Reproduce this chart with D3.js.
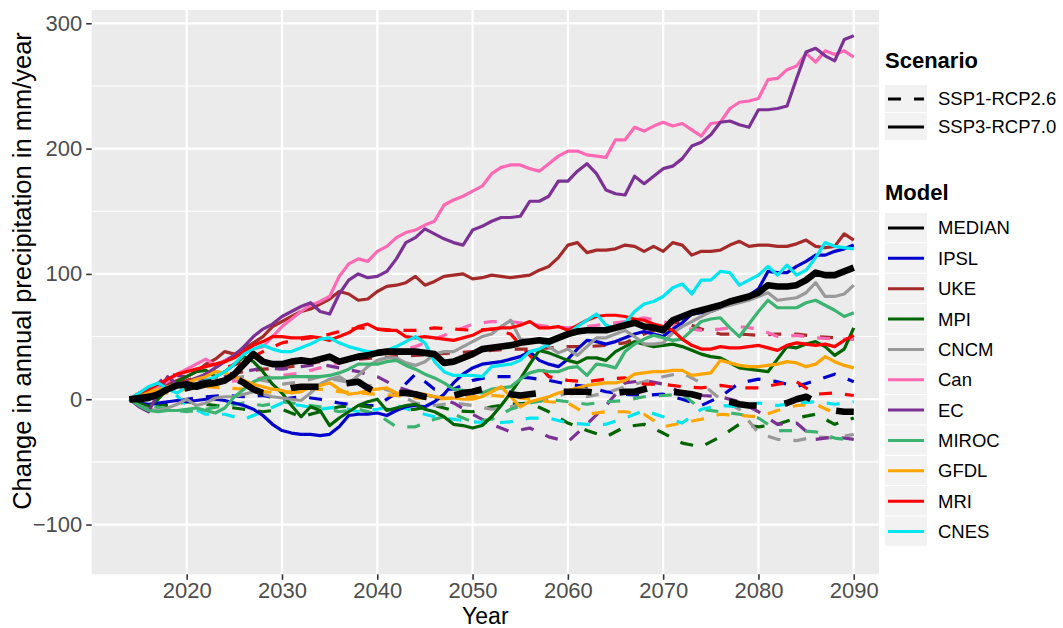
<!DOCTYPE html>
<html>
<head>
<meta charset="utf-8">
<script src="https://cdn.jsdelivr.net/npm/d3@7"></script>
<style>
  body { margin: 0; background: #fff; }
  text { font-family: "Liberation Sans", Arial, Helvetica, sans-serif; }
</style>
</head>
<body>
<div id="chart"></div>
<script>
// ---- data -------------------------------------------------------------
// years: SSP3 runs and the medians are annual, SSP1 model runs read every 2nd year
var yearsAnnual = d3.range(2014, 2091);
var yearsBiennial = d3.range(2014, 2091, 2);

var models = ["MEDIAN", "IPSL", "UKE", "MPI", "CNCM", "Can", "EC", "MIROC", "GFDL", "MRI", "CNES"];
var modelColors = ["#000000", "#0000cd", "#a52a2a", "#006400", "#999999", "#ff69b4",
                   "#7b3294", "#3cb371", "#ffa500", "#ff0000", "#00e5ee"];
var scenarios = ["SSP1-RCP2.6", "SSP3-RCP7.0"];

var yTicks = [-100, 0, 100, 200, 300];
var yMinorTicks = [-50, 50, 150, 250];
var xTicks = [2020, 2030, 2040, 2050, 2060, 2070, 2080, 2090];

// SSP3-RCP7.0 (solid), annual 2014-2090
var medianSsp3 = [0,0,1,4,8,11,12,10,12,13, 15,20,28,36,30,28,28,30,31,30,
  32,34,30,32,34,35,37,38,38,38, 38,37,36,29,30,33,36,40,41,42,
  43,45,46,47,46,49,52,54,55,55, 55,57,59,61,58,57,55,63,66,69,
  71,73,75,78,80,82,85,91,90,90, 91,95,101,99,99,102,105];
var ipslSsp3 = [0,-3,-4,-3,-2,-1,-2,-1,0,0, -1,-3,-5,-8,-13,-20,-25,-27,-28,-28,
  -29,-28,-22,-13,-12,-12,-11,-13,-9,-6, -5,-6,-2,4,13,20,25,28,29,30,
  32,34,38,31,28,26,32,40,47,46, 44,46,49,52,54,52,50,56,61,68,
  69,70,73,77,80,83,88,102,101,101, 106,110,115,115,118,120,123];
var ukeSsp3 = [0,2,5,8,12,15,18,22,28,32, 38,36,40,45,50,58,62,66,70,72,
  76,80,86,84,79,80,86,90,91,93, 98,91,94,98,99,100,96,97,99,98,
  97,98,99,103,106,113,123,125,117,119, 119,120,123,122,118,122,118,125,123,115,
  118,118,119,123,126,122,123,123,122,122, 124,127,122,121,122,132,127];
var mpiSsp3 = [0,-3,-6,0,8,14,18,22,23,18, 22,28,34,30,22,12,5,-5,-14,-6,
  -9,-21,-15,-10,-5,-2,0,-9,-7,-5, -4,-8,-10,-14,-20,-21,-23,-21,-14,-5,
  5,16,28,39,37,34,31,29,33,33, 31,38,42,46,44,42,43,44,42,39,
  36,34,33,29,25,24,23,22,32,42, 41,44,46,42,35,40,57];
var cncmSsp3 = [0,-5,-8,-9,-7,-4,0,-5,-3,1, 2,2,4,6,4,2,1,0,-1,5,
  12,16,18,13,19,26,31,33,33,29, 27,30,36,38,38,42,46,50,52,58,
  63,48,47,46,42,37,40,35,42,49, 49,52,55,50,44,44,45,53,58,62,
  66,70,73,75,77,79,82,85,79,80, 81,85,93,82,82,84,91];
var canSsp3 = [0,3,6,10,14,20,24,28,32,27, 31,35,38,40,42,50,58,64,70,75,
  78,82,98,108,112,110,118,122,129,133, 135,139,142,155,159,162,166,170,180,185,
  187,187,184,182,188,194,198,198,195,194, 193,207,207,217,214,218,221,218,220,215,
  210,220,221,232,237,238,240,255,256,263, 266,276,269,278,275,278,273];
var ecSsp3 = [0,-6,-10,5,18,12,14,17,20,25, 30,35,42,50,56,60,66,70,74,77,
  70,68,84,95,100,97,98,102,112,125, 129,136,132,128,125,123,135,138,142,145,
  145,146,158,158,162,174,174,182,188,180, 167,164,163,178,172,178,184,186,192,202,
  205,211,221,222,219,217,231,231,232,234, 256,277,280,274,270,287,290];
var mirocSsp3 = [0,-5,-9,-10,-9,-9,-8,-7,-9,-11, -7,2,8,14,17,17,17,18,18,18,
  18,19,21,24,28,28,28,30,31,27, 24,20,17,13,8,7,6,5,8,9,
  10,16,21,23,22,22,25,26,19,28, 27,25,38,44,48,51,49,47,48,55,
  62,64,65,57,50,60,70,79,73,73, 73,77,79,75,71,66,69];
var gfdlSsp3 = [0,3,6,8,10,11,13,16,18,22, 21,18,15,12,10,8,7,5,6,10,
  11,13,8,4,5,7,8,9,5,4, 5,4,2,1,1,0,0,2,6,10,
  2,-6,-2,0,2,5,7,9,11,12, 13,13,15,20,21,22,22,23,23,19,
  20,21,31,29,27,26,26,27,28,30, 29,26,28,34,30,27,25];
var mriSsp3 = [0,5,8,12,16,20,22,24,26,28, 30,33,38,43,46,50,50,49,49,50,
  49,47,50,53,58,60,56,55,55,50, 49,50,49,48,47,49,51,55,56,57,
  57,59,62,57,57,58,55,59,63,66, 67,67,66,64,63,60,58,55,48,43,
  40,40,42,41,41,42,43,41,39,43, 45,44,43,44,42,47,51];
var cnesSsp3 = [0,5,10,13,8,5,10,12,15,18, 22,28,36,40,43,40,38,38,41,44,
  48,49,45,42,40,38,38,39,42,46, 50,45,30,22,19,19,19,18,26,27,
  28,31,38,40,44,48,52,58,63,68, 59,57,61,70,76,78,82,89,92,84,
  95,95,102,101,91,95,99,106,99,107, 99,103,113,125,122,121,120];

// SSP1-RCP2.6 (dashed)
var medianSsp1 = [0,1,2,3,5,7,9,11,13,14, 15,17,13,8,5,5,7,9,10,10,
  10,11,12,13,14,9,5,5,5,5, 4,2,1,2,3,5,6,8,10,7,
  4,3,4,5,6,6,6,6,6,5, 4,5,6,6,8,10,8,6,5,4,
  2,0,-1,-2,-4,-5,-5,-5,-5,-3, 0,2,-2,-6,-9,-10,-10];
var ipslSsp1 = [0,-5,-3,0,2,3,2,3,0,2, 0,-3,-5,-5,5,20,8,8,15,18,
  18,17,15,12,10,6,4,3,4,0, -5,2,13,16,14,10,15,20,14];
var ukeSsp1 = [0,4,8,10,14,20,22,24,25,27, 30,31,32,33,34,35,36,37,38,39,
  40,40,41,42,42,43,45,52,58,62, 56,52,52,51,52,52,50,49,48];
var mpiSsp1 = [0,-3,-5,-2,-4,-6,-8,-10,-8,-14, -10,-6,-5,-7,-9,-8,-5,-9,-10,-6,
  -4,-3,-10,-19,-25,-30,-22,-20,-27,-35, -38,-30,-20,-22,-20,-15,-12,-20,-15];
var cncmSsp1 = [0,3,8,12,15,16,18,15,12,14, 18,15,12,10,5,-3,-5,-3,-5,-8,
  -6,-3,0,5,2,5,10,14,18,21, 13,0,-8,-27,-32,-33,-30,-31,-28];
var canSsp1 = [0,3,7,10,12,14,15,17,19,21, 25,29,33,35,38,42,48,54,60,62,
  62,60,58,57,58,60,62,65,62,57, 55,56,58,56,50,51,49,48,48];
var ecSsp1 = [0,5,20,18,15,18,22,25,24,26, 28,25,22,18,10,5,2,-3,-12,-20,
  -26,-23,-30,-34,-20,-5,13,15,12,5, 3,2,-2,-10,-20,-19,-32,-30,-32];
var mirocSsp1 = [0,-5,-8,-10,-8,-5,-3,-5,-2,-4, -6,-10,-8,-12,-22,-22,-16,-12,-18,-16,
  -8,-3,0,-2,-4,-2,-1,2,3,4, -8,-10,-12,-15,-25,-25,-26,-31,-33];
var gfdlSsp1 = [0,3,5,8,10,9,8,6,5,7, 8,6,5,4,3,1,0,1,2,3,
  2,0,-2,-3,-12,-10,-10,-12,-22,-19, -16,-12,-13,-14,-9,-5,-4,-11,-9];
var mriSsp1 = [0,5,10,15,20,25,30,38,45,48, 50,54,57,56,55,55,57,56,55,56,
  52,35,18,15,14,16,17,12,12,10, 9,11,9,9,12,14,4,5,3];
var cnesSsp1 = [0,5,10,-5,-12,-12,-16,-10,-3,-5, -8,-6,-10,-8,-5,-10,-14,-16,-18,-19,
  -18,-15,-15,-19,-20,-20,-15,-9,-14,-19, -8,-5,-6,-3,-5,-3,-2,-4,-2];

// ---- series table -----------------------------------------------------
var ssp1Values = [medianSsp1, ipslSsp1, ukeSsp1, mpiSsp1, cncmSsp1, canSsp1, ecSsp1, mirocSsp1, gfdlSsp1, mriSsp1, cnesSsp1];
var ssp3Values = [medianSsp3, ipslSsp3, ukeSsp3, mpiSsp3, cncmSsp3, canSsp3, ecSsp3, mirocSsp3, gfdlSsp3, mriSsp3, cnesSsp3];

var series = [];
// draw order: model runs (dashed, then solid), medians on top
models.forEach(function(m, i) {
  if (m == "MEDIAN") return;
  series.push({model: m, scen: 0, years: yearsBiennial, values: ssp1Values[i]});
});
models.forEach(function(m, i) {
  if (m == "MEDIAN") return;
  series.push({model: m, scen: 1, years: yearsAnnual, values: ssp3Values[i]});
});
series.push({model: "MEDIAN", scen: 0, years: yearsAnnual, values: medianSsp1});
series.push({model: "MEDIAN", scen: 1, years: yearsAnnual, values: medianSsp3});

// ---- layout -----------------------------------------------------------
var width = 1063, height = 628;
var panel = {left: 91.7, right: 879, top: 10, bottom: 574.3};

var svg = d3.select("#chart").append("svg")
  .attr("width", width)
  .attr("height", height);

var x = d3.scaleLinear().domain([2010.03, 2092.65]).range([panel.left, panel.right]);
var y = d3.scaleLinear().domain([-139.7, 310.6]).range([panel.bottom, panel.top]);

var color = d3.scaleOrdinal().domain(models).range(modelColors);

// panel background + grid
svg.append("rect")
  .attr("x", panel.left).attr("y", panel.top)
  .attr("width", panel.right - panel.left).attr("height", panel.bottom - panel.top)
  .attr("fill", "#ebebeb");

svg.selectAll("line.yminor").data(yMinorTicks).enter().append("line")
  .attr("x1", panel.left).attr("x2", panel.right)
  .attr("y1", function(d) { return y(d); }).attr("y2", function(d) { return y(d); })
  .attr("stroke", "#fff").attr("stroke-width", 1.1);

svg.selectAll("line.ymajor").data(yTicks).enter().append("line")
  .attr("x1", panel.left).attr("x2", panel.right)
  .attr("y1", function(d) { return y(d); }).attr("y2", function(d) { return y(d); })
  .attr("stroke", "#fff").attr("stroke-width", 2.2);

svg.selectAll("line.xmajor").data(xTicks).enter().append("line")
  .attr("y1", panel.top).attr("y2", panel.bottom)
  .attr("x1", function(d) { return x(d); }).attr("x2", function(d) { return x(d); })
  .attr("stroke", "#fff").attr("stroke-width", 2.2);

// lines
var line = d3.line()
  .x(function(d) { return x(d[0]); })
  .y(function(d) { return y(d[1]); });

svg.append("g").selectAll("path")
  .data(series)
  .enter().append("path")
  .attr("d", function(s) { return line(d3.zip(s.years, s.values)); })
  .attr("fill", "none")
  .attr("stroke", function(s) { return color(s.model); })
  .attr("stroke-width", function(s) { return s.model == "MEDIAN" ? 6.6 : 3.2; })
  .attr("stroke-linejoin", "round")
  .attr("stroke-linecap", "butt")
  .attr("stroke-dasharray", function(s) {
    if (s.scen == 1) return null;
    return s.model == "MEDIAN" ? "28,28" : "13,13";
  });

// axes
var yAxis = svg.append("g")
  .attr("transform", "translate(" + panel.left + ",0)")
  .call(d3.axisLeft(y).tickValues(yTicks).tickSize(5.5).tickPadding(4));
var xAxis = svg.append("g")
  .attr("transform", "translate(0," + panel.bottom + ")")
  .call(d3.axisBottom(x).tickValues(xTicks).tickFormat(d3.format("d")).tickSize(5.5).tickPadding(3));

[yAxis, xAxis].forEach(function(a) {
  a.select(".domain").remove();
  a.selectAll(".tick line").attr("stroke", "#333").attr("stroke-width", 1.6);
  a.selectAll(".tick text").attr("fill", "#4d4d4d").style("font-size", "22px")
    .style("font-family", "'Liberation Sans', Arial, sans-serif");
});

svg.append("text")
  .attr("x", (panel.left + panel.right) / 2).attr("y", 624)
  .attr("text-anchor", "middle")
  .style("font-size", "23px").attr("fill", "#000")
  .text("Year");

svg.append("text")
  .attr("transform", "translate(31,271) rotate(-90)")
  .attr("text-anchor", "middle")
  .style("font-size", "25.5px").attr("fill", "#000")
  .text("Change in annual precipitation in mm/year");

// ---- legends ----------------------------------------------------------
var keyX = 885, keyW = 42, labelX = 938;

var scenLegend = svg.append("g");
scenLegend.append("text")
  .attr("x", keyX).attr("y", 68)
  .style("font-size", "22px").style("font-weight", "bold")
  .text("Scenario");

var scenRows = scenLegend.selectAll("g.row").data(scenarios).enter().append("g")
  .attr("transform", function(d, i) { return "translate(0," + (85 + i * 28) + ")"; });
scenRows.append("rect")
  .attr("x", keyX).attr("y", 0).attr("width", keyW).attr("height", 27)
  .attr("fill", "#f2f2f2");
scenRows.append("line")
  .attr("x1", keyX + 3).attr("x2", keyX + keyW - 3)
  .attr("y1", 14).attr("y2", 14)
  .attr("stroke", "#000").attr("stroke-width", 3)
  .attr("stroke-dasharray", function(d, i) { return i == 0 ? "13,13" : null; });
scenRows.append("text")
  .attr("x", labelX).attr("y", 14).attr("dy", "0.35em")
  .style("font-size", "18.5px")
  .text(function(d) { return d; });

var modelLegend = svg.append("g");
modelLegend.append("text")
  .attr("x", keyX).attr("y", 200)
  .style("font-size", "22px").style("font-weight", "bold")
  .text("Model");

var modelRows = modelLegend.selectAll("g.row").data(models).enter().append("g")
  .attr("transform", function(d, i) { return "translate(0," + (213 + i * 30.35) + ")"; });
modelRows.append("rect")
  .attr("x", keyX).attr("y", 0).attr("width", keyW).attr("height", 29.3)
  .attr("fill", "#f2f2f2");
modelRows.append("line")
  .attr("x1", keyX + 3).attr("x2", keyX + keyW - 3)
  .attr("y1", 15).attr("y2", 15)
  .attr("stroke", function(d) { return color(d); }).attr("stroke-width", 3);
modelRows.append("text")
  .attr("x", labelX).attr("y", 15).attr("dy", "0.35em")
  .style("font-size", "18.5px")
  .text(function(d) { return d; });
</script>
</body>
</html>
